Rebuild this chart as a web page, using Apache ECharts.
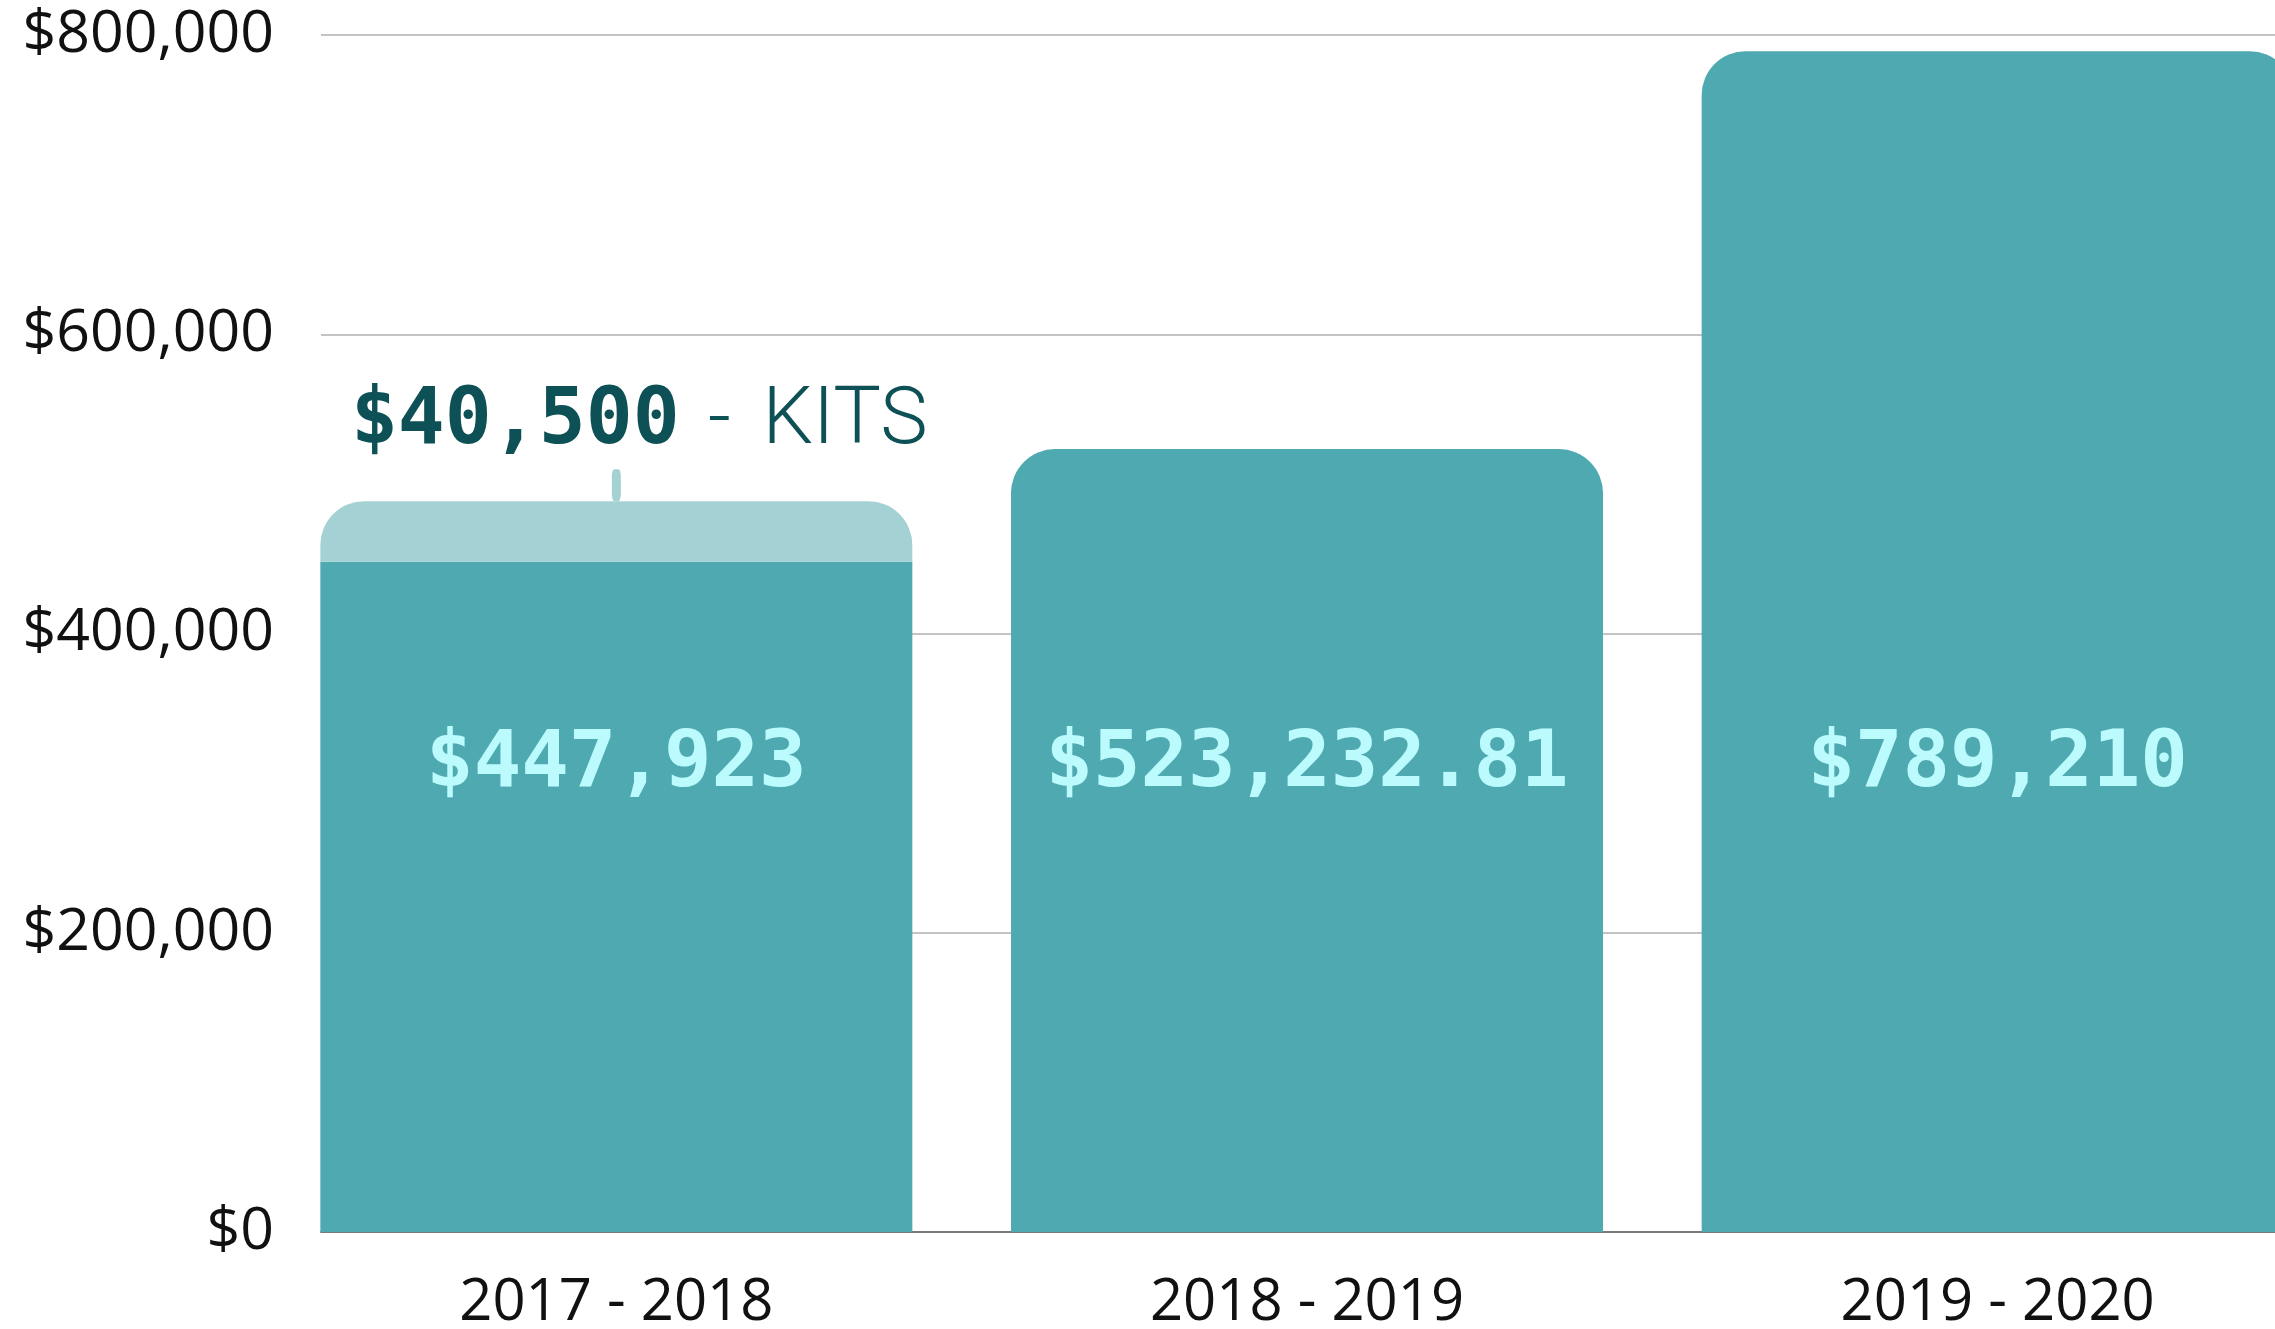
<!DOCTYPE html>
<html>
<head>
<meta charset="utf-8">
<script src="https://cdn.jsdelivr.net/npm/echarts@6/dist/echarts.min.js"></script>
<style>
    html, body { margin: 0; padding: 0; background: #fff; }
    #container { width: 2275px; height: 1329px; }
</style>
</head>
<body>
<div id="container"></div>
<script>
var categories = ['2017 - 2018', '2018 - 2019', '2019 - 2020'];
var baseValues = [447923, 523232.81, 789210];   // main amount per year
var kitValues = [40500, null, null];            // kits on top of first year
var yTicks = { min: 0, max: 800000, interval: 200000 };

var BASE_COLOR = '#4fa9b1';
var KIT_COLOR = '#a4d2d4';
var RADIUS = 44;

function money(v) {
    return '$' + Number(v).toLocaleString('en-US', { maximumFractionDigits: 2 });
}

/*==========================================
 * 构建柱子数据（圆角只放在最上面一段）
 */
function buildBaseData() {
    var _data = [];
    for (var i = 0, l = baseValues.length; i < l; i++) {
        var _hasKit = kitValues[i] != null;
        _data.push({
            value: baseValues[i],
            itemStyle: { borderRadius: _hasKit ? 0 : [RADIUS, RADIUS, 0, 0] }
        });
    };
    return _data;
};

$ready();
function $ready() {
    var dom = document.getElementById('container');
    var myChart = echarts.init(dom);

    var option = {
        animation: false,
        grid: [
            { left: 321, right: 0, top: 35, bottom: 97, containLabel: false, outerBoundsMode: 'none' },
            { left: 271, width: 2072, top: 35, bottom: 97, containLabel: false, outerBoundsMode: 'none' }
        ],
        xAxis: [
            {
                gridIndex: 0, type: 'value', min: 0, max: 1,
                axisLine: { show: true, lineStyle: { color: '#7a7a7a', width: 2 } },
                axisTick: { show: false }, axisLabel: { show: false }, splitLine: { show: false }
            },
            {
                gridIndex: 1, type: 'category', data: categories,
                axisLine: { show: false }, axisTick: { show: false },
                axisLabel: { fontFamily: 'Open Sans', fontSize: 58, color: '#111', margin: 42 }
            }
        ],
        yAxis: [
            {
                gridIndex: 0, type: 'value',
                min: yTicks.min, max: yTicks.max, interval: yTicks.interval,
                axisLine: { show: false }, axisTick: { show: false },
                axisLabel: {
                    fontFamily: 'Open Sans', fontSize: 59, color: '#111', margin: 47,
                    formatter: function(v) { return money(v); }
                },
                splitLine: { lineStyle: { color: '#c4c4c4', width: 2 } }
            },
            {
                gridIndex: 1, type: 'value',
                min: yTicks.min, max: yTicks.max, show: false
            }
        ],
        series: [
            {
                name: 'amount', type: 'bar', stack: 'total',
                xAxisIndex: 1, yAxisIndex: 1,
                barWidth: 592,
                data: buildBaseData(),
                itemStyle: { color: BASE_COLOR },
                label: {
                    show: true, position: 'insideBottom', distance: 427,
                    fontFamily: 'DejaVu Sans Mono', fontWeight: 'bold', fontSize: 79,
                    color: '#bcfbfd',
                    formatter: function(p) { return money(p.value); }
                }
            },
            {
                name: 'kits', type: 'bar', stack: 'total',
                xAxisIndex: 1, yAxisIndex: 1,
                barWidth: 592,
                data: kitValues,
                itemStyle: { color: KIT_COLOR, borderRadius: [RADIUS, RADIUS, 0, 0] },
                label: {
                    show: true, position: 'top', distance: 36, offset: [23, 0],
                    formatter: function(p) { return '{a|' + money(p.value) + '}{b| - }{c|KITS}'; },
                    rich: {
                        a: { fontFamily: 'DejaVu Sans Mono', fontWeight: 'bold', fontSize: 78, color: '#0d5156', lineHeight: 84, verticalAlign: 'middle' },
                        b: { fontFamily: 'Roboto', fontWeight: 300, fontSize: 80, color: '#0d5156', lineHeight: 84, verticalAlign: 'middle', padding: [0, 12, 0, 9] },
                        c: { fontFamily: 'Roboto', fontWeight: 300, fontSize: 80, color: '#0d5156', lineHeight: 84, verticalAlign: 'middle' }
                    }
                },
                markPoint: {
                    silent: true,
                    symbol: 'roundRect',
                    symbolSize: [9, 32],
                    symbolOffset: [0, '-50%'],
                    itemStyle: { color: KIT_COLOR },
                    label: { show: false },
                    data: [{ coord: [0, baseValues[0] + kitValues[0]] }]
                }
            }
        ]
    };

    myChart.setOption(option, true);
};
</script>
</body>
</html>
